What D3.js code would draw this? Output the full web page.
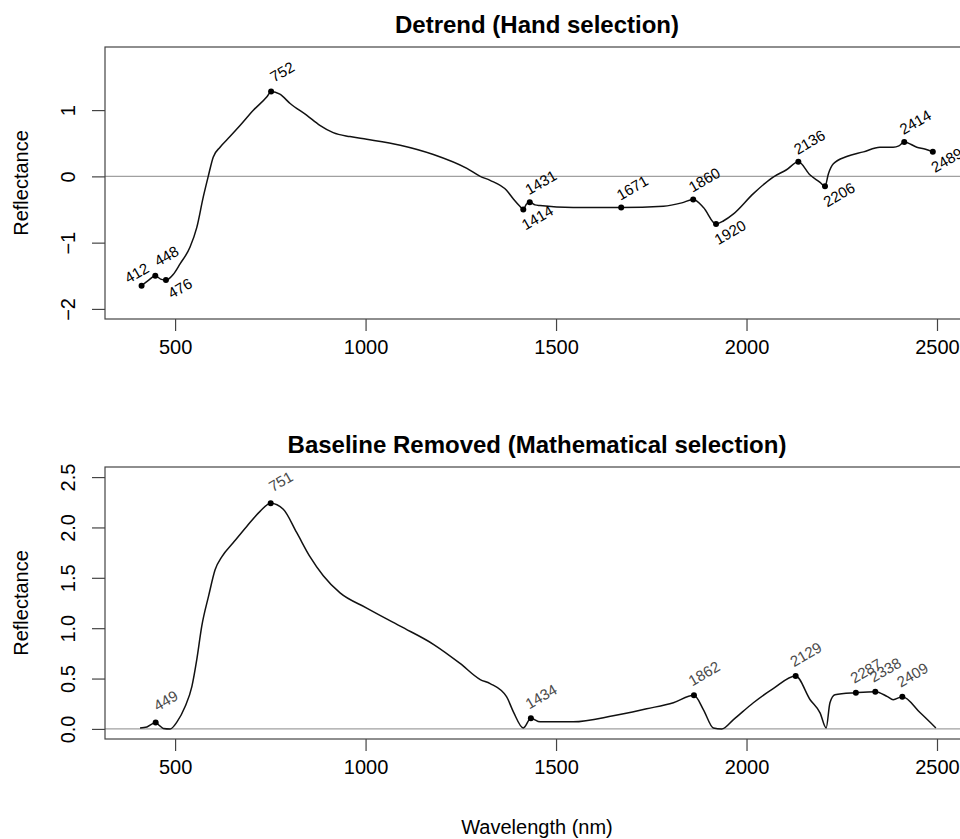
<!DOCTYPE html>
<html>
<head>
<meta charset="utf-8">
<script src="https://cdn.jsdelivr.net/npm/d3@7"></script>
<style>
  body { margin: 0; background: #fff; }
  svg { font-family: "Liberation Sans", Arial, sans-serif; }
</style>
</head>
<body>
<div id="chart"></div>
<script>
// Detrended spectrum (hand selection)
const topWave = [412, 430, 448, 462, 476, 495, 513, 539, 557, 574, 587, 600, 618, 644, 671, 706, 741, 752, 775, 802, 846, 880, 915, 959, 1003, 1091, 1178, 1266, 1301, 1327, 1370, 1388, 1405, 1414, 1422, 1431, 1445, 1458, 1545, 1671, 1782, 1830, 1860, 1887, 1920, 1940, 1965, 2018, 2070, 2105, 2136, 2167, 2193, 2206, 2215, 2228, 2263, 2307, 2350, 2385, 2400, 2414, 2447, 2470, 2489];
const topRefl = [-1.65, -1.57, -1.50, -1.55, -1.565, -1.48, -1.32, -1.07, -0.77, -0.31, 0.0, 0.29, 0.44, 0.60, 0.77, 1.0, 1.20, 1.28, 1.24, 1.10, 0.92, 0.77, 0.66, 0.60, 0.56, 0.47, 0.33, 0.12, 0.0, -0.06, -0.21, -0.34, -0.45, -0.50, -0.42, -0.39, -0.43, -0.44, -0.47, -0.47, -0.45, -0.40, -0.35, -0.47, -0.72, -0.67, -0.57, -0.26, -0.01, 0.10, 0.22, 0.02, -0.09, -0.15, 0.04, 0.19, 0.30, 0.37, 0.44, 0.44, 0.46, 0.52, 0.44, 0.41, 0.37];
const topPeaks = [412, 448, 476, 752, 1414, 1431, 1671, 1860, 1920, 2136, 2206, 2414, 2489];
const topPeakSide = ["up", "up", "down", "up", "down", "up", "up", "up", "down", "up", "down", "up", "down"];

// Baseline removed spectrum (mathematical selection)
const botWave = [408, 426, 440, 449, 460, 469, 487, 505, 526, 544, 557, 570, 588, 605, 623, 653, 688, 723, 751, 784, 819, 854, 889, 933, 1003, 1091, 1178, 1248, 1301, 1327, 1370, 1388, 1414, 1434, 1458, 1545, 1650, 1738, 1808, 1862, 1887, 1913, 1935, 1965, 2018, 2070, 2129, 2167, 2193, 2209, 2219, 2232, 2287, 2338, 2370, 2385, 2409, 2456, 2497];
const botRefl = [0.01, 0.02, 0.05, 0.065, 0.03, 0.005, 0.0, 0.07, 0.22, 0.42, 0.69, 1.02, 1.32, 1.58, 1.71, 1.85, 2.01, 2.16, 2.24, 2.18, 1.95, 1.71, 1.52, 1.35, 1.20, 1.02, 0.84, 0.65, 0.49, 0.45, 0.32, 0.17, 0.01, 0.105, 0.07, 0.07, 0.13, 0.20, 0.26, 0.334, 0.19, 0.01, 0.0, 0.09, 0.26, 0.40, 0.525, 0.29, 0.16, 0.01, 0.26, 0.34, 0.36, 0.37, 0.32, 0.29, 0.32, 0.16, 0.01];
const botPeaks = [449, 751, 1434, 1862, 2129, 2287, 2338, 2409];

const xTicks = [500, 1000, 1500, 2000, 2500];
const topYTicks = [-2, -1, 0, 1];
const botYTicks = [0, 0.5, 1, 1.5, 2, 2.5];

const width = 960, height = 839;

const svg = d3.select("#chart").append("svg")
    .attr("width", width)
    .attr("height", height);

const x = d3.scaleLinear().domain([316, 2584]).range([105, 969]);

function panel(opts) {
    const y = d3.scaleLinear().domain(opts.yDomain).range([opts.bottom, opts.top]);
    const g = svg.append("g");
    const data = opts.wave.map((w, i) => ({ w: w, v: opts.refl[i] }));

    // zero line
    g.append("line")
        .attr("x1", x.range()[0]).attr("x2", x.range()[1])
        .attr("y1", y(0)).attr("y2", y(0))
        .attr("stroke", "#a0a0a0").attr("stroke-width", 1.2);

    // frame
    g.append("rect")
        .attr("x", x.range()[0]).attr("y", opts.top)
        .attr("width", x.range()[1] - x.range()[0])
        .attr("height", opts.bottom - opts.top)
        .attr("fill", "none").attr("stroke", "#444").attr("stroke-width", 1.2);

    // x axis
    const xa = g.append("g").attr("transform", `translate(0,${opts.bottom})`)
        .call(d3.axisBottom(x).tickValues(xTicks).tickSize(12).tickPadding(9).tickFormat(d3.format("d")));
    xa.select(".domain").remove();
    xa.selectAll("line").attr("stroke", "#444").attr("stroke-width", 1.2);
    xa.selectAll("text").attr("font-size", 20).attr("fill", "#000")
        .attr("font-family", "Liberation Sans, Arial, sans-serif");

    // y axis
    const ya = g.append("g").attr("transform", `translate(${x.range()[0]},0)`)
        .call(d3.axisLeft(y).tickValues(opts.yTicks).tickSize(13).tickFormat(opts.yFormat));
    ya.select(".domain").remove();
    ya.selectAll("line").attr("stroke", "#444").attr("stroke-width", 1.2);
    ya.selectAll("text")
        .attr("font-size", 20).attr("fill", "#000")
        .attr("font-family", "Liberation Sans, Arial, sans-serif")
        .attr("x", null).attr("dy", null)
        .attr("text-anchor", "middle")
        .attr("dominant-baseline", "central")
        .attr("transform", "translate(-37,0) rotate(-90)");

    // title + y label
    svg.append("text")
        .attr("x", 537).attr("y", opts.top - 14)
        .attr("text-anchor", "middle")
        .attr("font-size", 24).attr("font-weight", "bold")
        .text(opts.title);
    svg.append("text")
        .attr("transform", `translate(21,${(opts.top + opts.bottom) / 2}) rotate(-90)`)
        .attr("text-anchor", "middle")
        .attr("dominant-baseline", "central")
        .attr("font-size", 20)
        .text("Reflectance");

    // spectrum
    const line = d3.line().x(d => x(d.w)).y(d => y(d.v)).curve(d3.curveMonotoneX);
    g.append("path").datum(data)
        .attr("d", line)
        .attr("fill", "none").attr("stroke", "#111").attr("stroke-width", 1.5);

    // peaks
    const peaks = opts.peaks.map((p, i) => ({
        w: p, v: data.find(d => d.w === p).v, side: opts.sides ? opts.sides[i] : "up"
    }));
    g.selectAll(".pt").data(peaks).enter().append("circle")
        .attr("cx", d => x(d.w)).attr("cy", d => y(d.v)).attr("r", 3).attr("fill", "#000");

    const nudge = { 412: [-5, -13] };
    g.selectAll(".lab").data(peaks).enter().append("text")
        .attr("transform", d => {
            let off = d.side === "up" ? opts.upOff : [14, 8];
            if (nudge[d.w] && opts.useNudge) off = nudge[d.w];
            return `translate(${x(d.w) + off[0]},${y(d.v) + off[1]}) rotate(-30)`;
        })
        .attr("text-anchor", "middle")
        .attr("dominant-baseline", "central")
        .attr("font-size", 15)
        .attr("fill", opts.labelColor)
        .text(d => d.w);
}

panel({
    title: "Detrend (Hand selection)",
    top: 47, bottom: 319,
    yDomain: [-2.152, 1.952],
    yTicks: topYTicks, yFormat: d3.format("d"),
    wave: topWave, refl: topRefl,
    peaks: topPeaks, sides: topPeakSide,
    upOff: [11, -20], labelColor: "#000", useNudge: true
});

panel({
    title: "Baseline Removed (Mathematical selection)",
    top: 467, bottom: 739,
    yDomain: [-0.1, 2.6],
    yTicks: botYTicks, yFormat: d3.format(".1f"),
    wave: botWave, refl: botRefl,
    peaks: botPeaks, sides: null,
    upOff: [10, -22], labelColor: "#4a4a4a", useNudge: false
});

svg.append("text")
    .attr("x", 537).attr("y", 827)
    .attr("text-anchor", "middle")
    .attr("dominant-baseline", "central")
    .attr("font-size", 20)
    .text("Wavelength (nm)");
</script>
</body>
</html>
